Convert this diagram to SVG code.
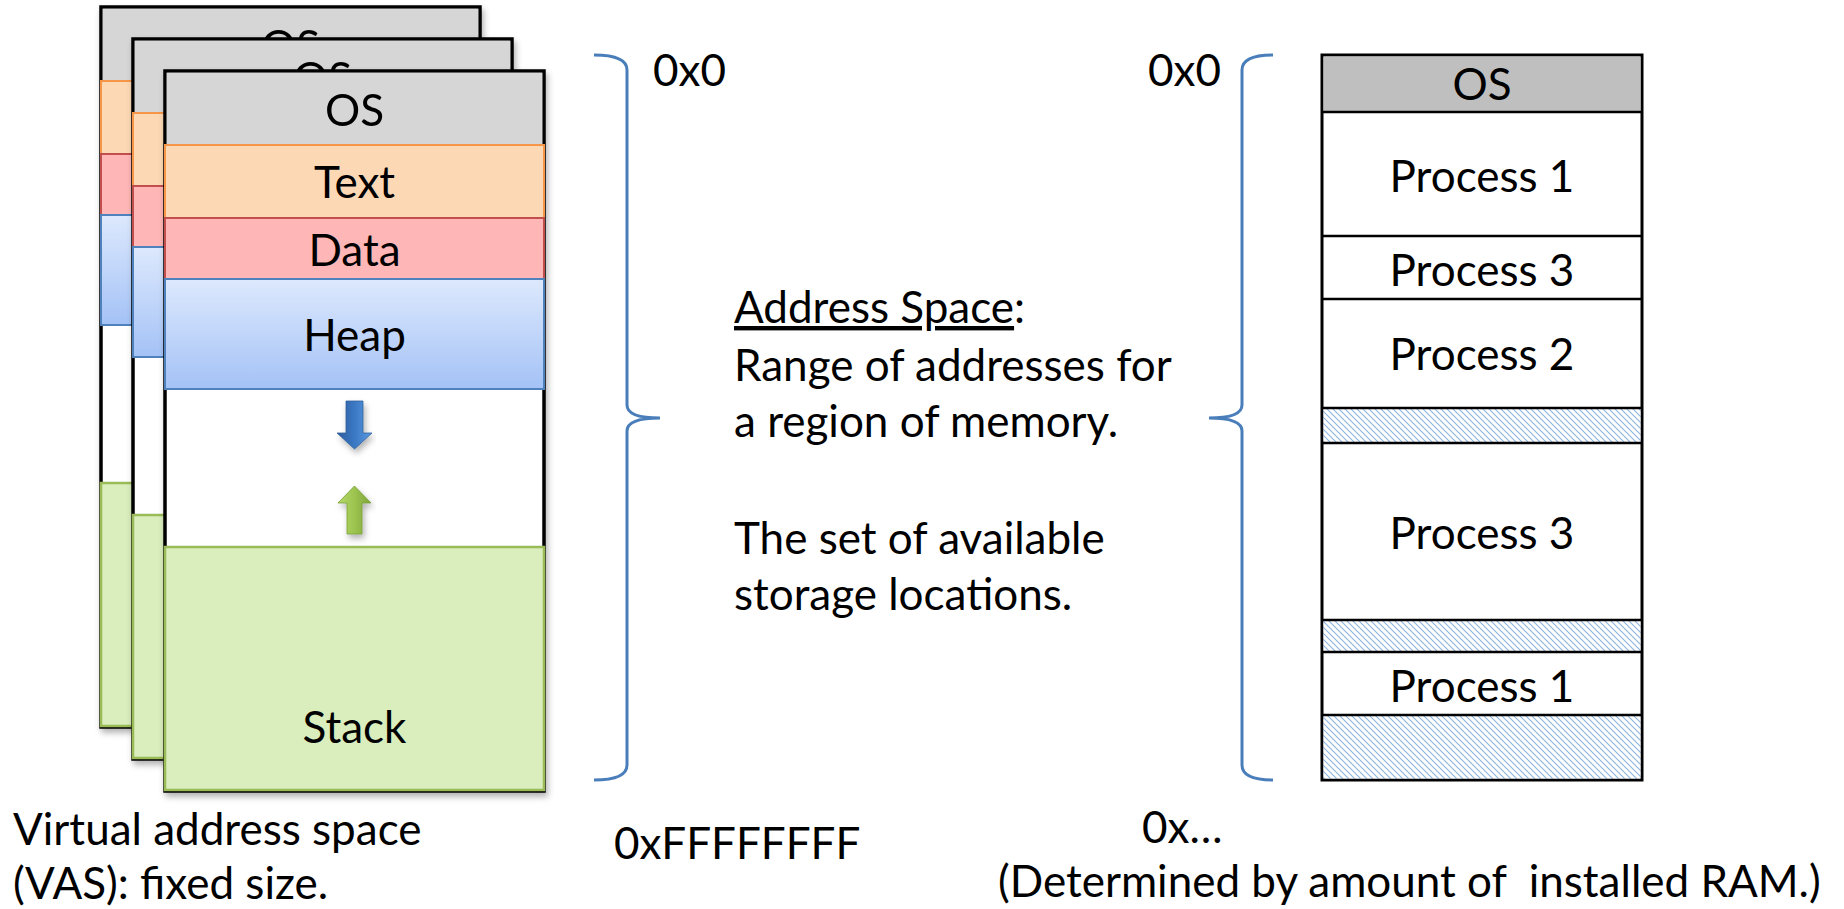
<svg xmlns="http://www.w3.org/2000/svg" xmlns:xlink="http://www.w3.org/1999/xlink" width="1844" height="909" viewBox="0 0 1844 909">
<style>
text{font-family:Lato,"Open Sans","Liberation Sans",sans-serif;font-size:44px;fill:#000}
.c{text-anchor:middle}
.frame{fill:#fff;stroke:#000;stroke-width:3.5}
.os{fill:#d6d6d6}
.txt{fill:#fdd8b5;stroke:#f79646;stroke-width:2}
.dat{fill:#ffb6b6;stroke:#c0504d;stroke-width:2}
.heap{fill:url(#heapG);stroke:#4f81bd;stroke-width:2}
.stk{fill:#d9edbd;stroke:#9bbb59;stroke-width:2.5}
.ram{fill:#fff;stroke:#000;stroke-width:3}
.sep{stroke:#000;stroke-width:2.5}
.hat{fill:url(#hatch)}
.brace{fill:none;stroke:#4a7ebb;stroke-width:3}
</style>
<defs>
<linearGradient id="heapG" x1="0" y1="0" x2="0" y2="1">
<stop offset="0" stop-color="#dde9fd"/>
<stop offset="1" stop-color="#a4c2f6"/>
</linearGradient>
<linearGradient id="blueA" x1="0" y1="0" x2="1" y2="0">
<stop offset="0" stop-color="#2c5c9c"/>
<stop offset="0.5" stop-color="#3b78c4"/>
<stop offset="1" stop-color="#5a9be0"/>
</linearGradient>
<linearGradient id="greenA" x1="0" y1="0" x2="1" y2="0">
<stop offset="0" stop-color="#b8d86a"/>
<stop offset="0.5" stop-color="#9cc44f"/>
<stop offset="1" stop-color="#7fa53a"/>
</linearGradient>
<pattern id="hatch" patternUnits="userSpaceOnUse" width="6" height="6">
<rect width="6" height="6" fill="#fff"/>
<path d="M-1,-1 L7,7 M-1,5 L1,7 M5,-1 L7,1" stroke="#8db4e2" stroke-width="1.1"/>
</pattern>
<filter id="sh" x="-5%" y="-5%" width="115%" height="115%">
<feDropShadow dx="2" dy="4" stdDeviation="3" flood-color="#000" flood-opacity="0.3"/>
</filter>
<g id="card">
<rect class="frame" x="165" y="71" width="379" height="720"/>
<rect class="os" x="166.75" y="72.75" width="375.5" height="72.25"/>
<rect class="txt" x="165" y="145" width="379" height="73"/>
<rect class="dat" x="165" y="218" width="379" height="61"/>
<rect class="heap" x="165" y="279" width="379" height="110"/>
<rect class="stk" x="165" y="547" width="379" height="243"/>
<text class="c" x="354.5" y="126">OS</text>
</g>
</defs>

<g id="vas-card-back-2" filter="url(#sh)">
<use xlink:href="#card" href="#card" transform="translate(-64,-64)"/>
</g>
<g id="vas-card-back-1" filter="url(#sh)">
<use xlink:href="#card" href="#card" transform="translate(-32,-32)"/>
</g>
<g id="vas-card-front">
<g filter="url(#sh)">
<use xlink:href="#card" href="#card"/>
</g>
<text class="c" x="354.5" y="198">Text</text>
<text class="c" x="354.5" y="266">Data</text>
<text class="c" x="354.5" y="351">Heap</text>
<text class="c" x="354.5" y="743">Stack</text>
<g filter="url(#sh)">
<polygon points="346,401 363,401 363,433 372,433 354.5,449 337,433 346,433" fill="url(#blueA)" stroke="#2f5f99" stroke-width="0.8"/>
<polygon points="354.5,486 371,503 362,503 362,534 347,534 347,503 338,503" fill="url(#greenA)" stroke="#76a035" stroke-width="0.8"/>
</g>
</g>

<g id="ram">
<rect class="ram" x="1322" y="55" width="320" height="725"/>
<rect x="1323.5" y="56.5" width="317" height="55.5" fill="#bfbfbf"/>
<rect class="hat" x="1323.5" y="408" width="317" height="35"/>
<rect class="hat" x="1323.5" y="620" width="317" height="32"/>
<rect class="hat" x="1323.5" y="715" width="317" height="63.5"/>
<g class="sep">
<line x1="1322" y1="112" x2="1642" y2="112"/>
<line x1="1322" y1="236" x2="1642" y2="236"/>
<line x1="1322" y1="299" x2="1642" y2="299"/>
<line x1="1322" y1="408" x2="1642" y2="408"/>
<line x1="1322" y1="443" x2="1642" y2="443"/>
<line x1="1322" y1="620" x2="1642" y2="620"/>
<line x1="1322" y1="652" x2="1642" y2="652"/>
<line x1="1322" y1="715" x2="1642" y2="715"/>
</g>
<text class="c" x="1482" y="100">OS</text>
<text class="c" x="1482" y="192">Process 1</text>
<text class="c" x="1482" y="286">Process 3</text>
<text class="c" x="1482" y="370">Process 2</text>
<text class="c" x="1482" y="549">Process 3</text>
<text class="c" x="1482" y="702">Process 1</text>
</g>

<g id="braces">
<path class="brace" d="M594,55 Q627,55 627,70 L627,405 Q627,418 660,418 Q627,418 627,431 L627,765 Q627,780 594,780"/>
<path class="brace" d="M1273,55 Q1242,55 1242,70 L1242,405 Q1242,418 1209,418 Q1242,418 1242,431 L1242,765 Q1242,780 1273,780"/>
</g>

<g id="labels">
<text x="653" y="86">0x0</text>
<text x="1148" y="86">0x0</text>
<text x="614" y="859">0xFFFFFFFF</text>
<text x="1142" y="843">0x…</text>
<text x="998" y="897" xml:space="preserve">(Determined by amount of  installed RAM.)</text>
<text x="13" y="845">Virtual address space</text>
<text x="13" y="899">(VAS): fixed size.</text>
<text x="734" y="323"><tspan text-decoration="underline">Address Space</tspan>:</text>
<text x="734" y="381">Range of addresses for</text>
<text x="734" y="437">a region of memory.</text>
<text x="734" y="554">The set of available</text>
<text x="734" y="610">storage locations.</text>
</g>
</svg>
